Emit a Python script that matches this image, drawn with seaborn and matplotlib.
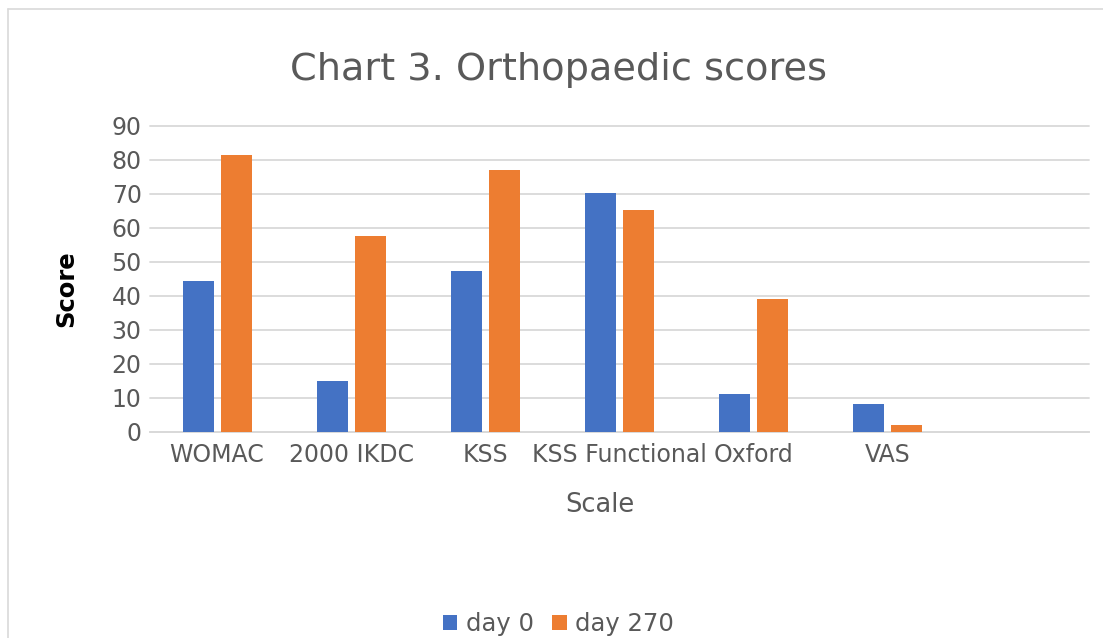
import pandas as pd
import matplotlib.pyplot as plt
import seaborn as sns
from matplotlib.lines import Line2D

scales = ['WOMAC', '2000 IKDC', 'KSS', 'KSS Functional', 'Oxford', 'VAS']
day0 = [44.3, 14.9, 47.3, 70.2, 11.1, 8.1]
day270 = [81.4, 57.5, 77.0, 65.2, 39.0, 2.0]
series = ['day 0', 'day 270']
colors = ['#4472C4', '#ED7D31']

df = pd.DataFrame({
    'Scale': scales * 2,
    'Day': [series[0]] * len(scales) + [series[1]] * len(scales),
    'Score': day0 + day270,
})

sns.set_style("white")
plt.rcParams['font.family'] = ['DejaVu Sans']

W, H = 1103, 638
fig = plt.figure(figsize=(W / 100, H / 100), dpi=100)
ax = fig.add_axes([150 / W, 1 - 431.7 / H, (1089 - 150) / W, (431.7 - 125.7) / H])

sns.barplot(data=df, x='Scale', y='Score', hue='Day', palette=colors,
            saturation=1, width=0.567, gap=0.184, linewidth=0, edgecolor='none',
            ax=ax, zorder=3)

grey = '#595959'
ax.set_xlim(-0.5, 6.5)
ax.set_ylim(0, 90)
ax.set_yticks(range(0, 91, 10))
ax.grid(axis='y', color='#d9d9d9', lw=1.3, zorder=0)
ax.set_axisbelow(True)
for line in ax.get_ygridlines():
    line.set_clip_on(False)
for s in ['top', 'right', 'left']:
    ax.spines[s].set_visible(False)
ax.spines['bottom'].set_color('#d9d9d9')
ax.spines['bottom'].set_linewidth(1.3)
ax.tick_params(axis='both', length=0, labelsize=17, labelcolor=grey)
ax.tick_params(axis='y', pad=6)
ax.tick_params(axis='x', pad=8)
ax.set_xlabel('')
ax.set_ylabel('')

fig.text(559 / W, 1 - 80 / H, 'Chart 3. Orthopaedic scores', ha='center',
         va='baseline', fontsize=27.5, color=grey)
fig.text(600 / W, 1 - 511.7 / H, 'Scale', ha='center', va='baseline',
         fontsize=18.5, color=grey)
fig.text(66 / W, 1 - 289 / H, 'Score', ha='center', va='center',
         rotation=90, fontsize=17.5, fontweight='bold', color='black')

handles, labels = ax.get_legend_handles_labels()
ax.legend_.remove()
leg = fig.legend(handles, labels, loc='center', bbox_to_anchor=(558.5 / W, 1 - 624 / H),
                 ncol=2, frameon=False, fontsize=17.5, handlelength=0.6,
                 handleheight=0.6, handletextpad=0.35, columnspacing=0.75,
                 labelcolor=grey)

# chart area border (left and top edges visible)
fig.add_artist(Line2D([8 / W, 8 / W], [0, 1 - 9 / H], color='#d9d9d9', lw=1.2))
fig.add_artist(Line2D([8 / W, 1.02], [1 - 9 / H, 1 - 9 / H], color='#d9d9d9', lw=1.2))

fig.savefig('out.png', dpi=100)
